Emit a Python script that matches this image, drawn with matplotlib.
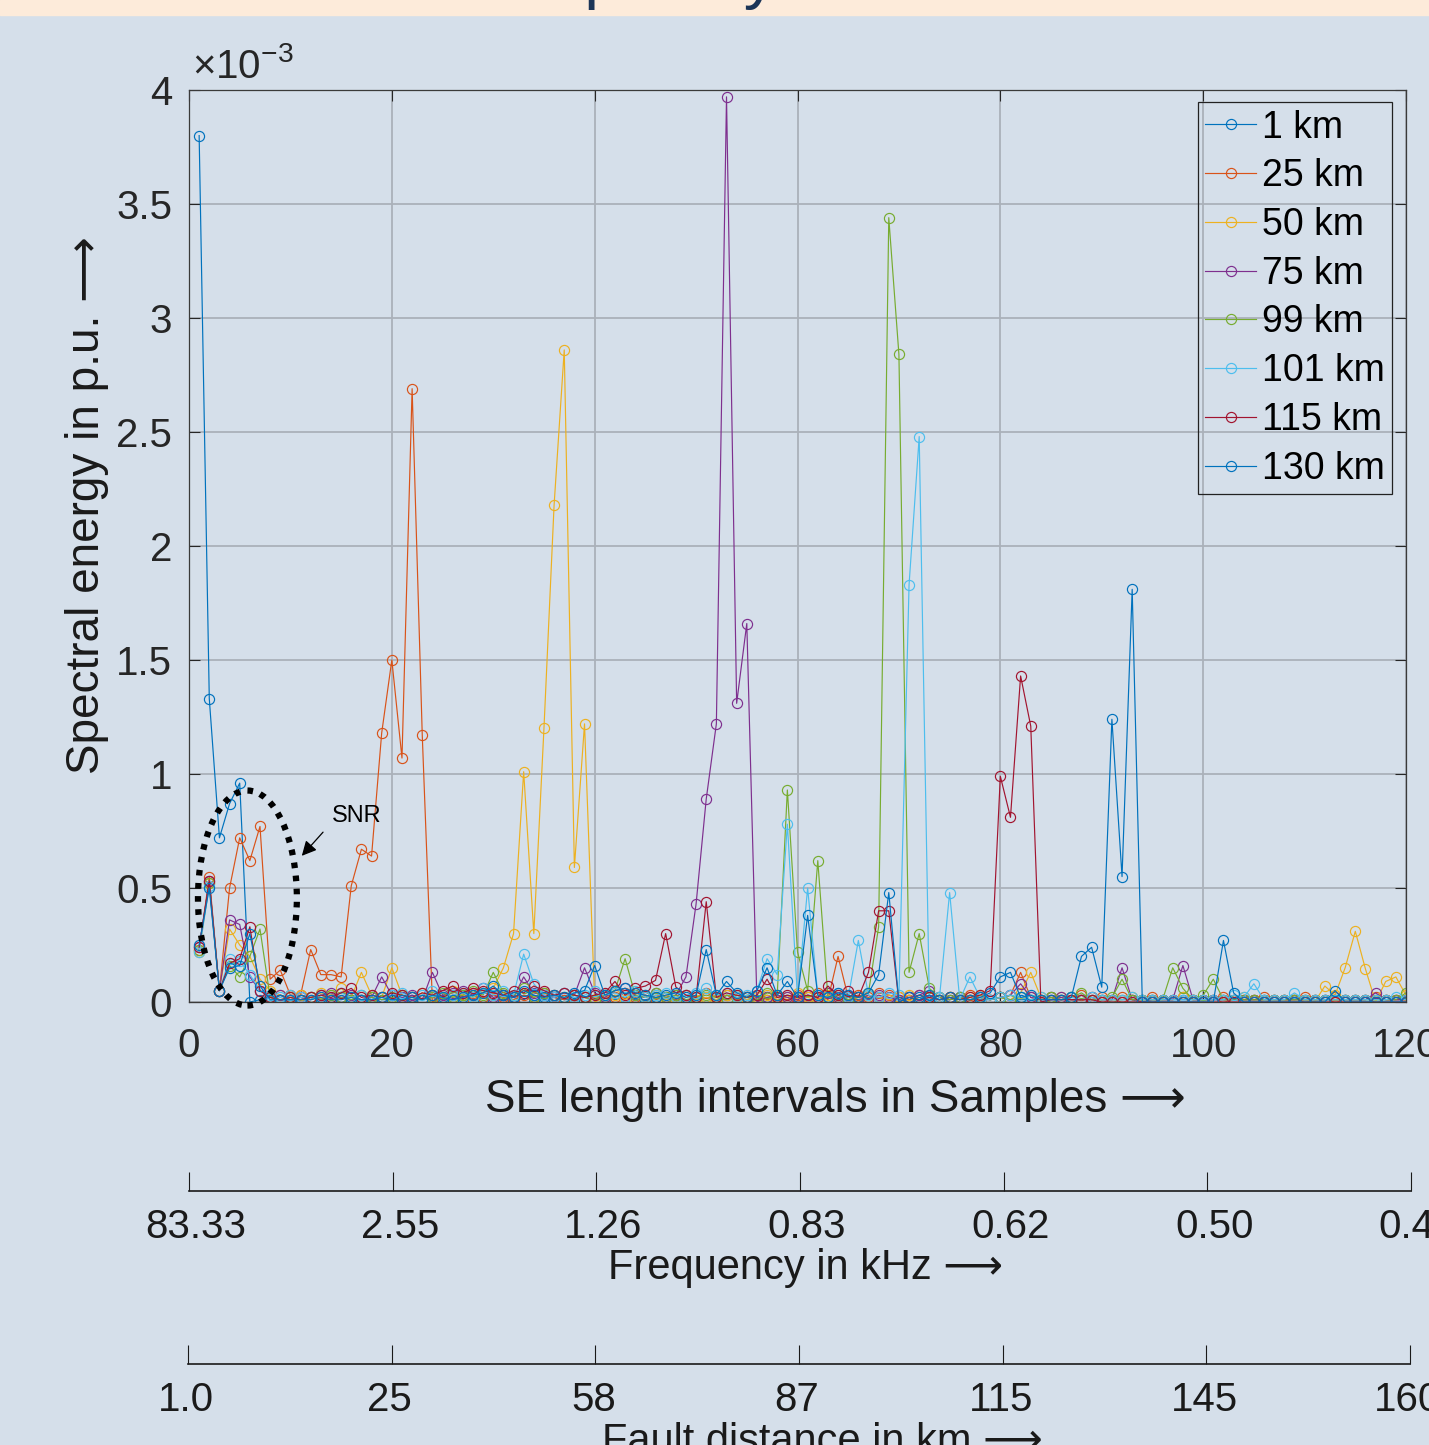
import numpy as np
import matplotlib.pyplot as plt
import matplotlib.transforms as mtransforms
from matplotlib.patches import Ellipse, Rectangle

plt.rcParams['font.family'] = ['Liberation Sans', 'DejaVu Sans']
plt.rcParams['mathtext.fontset'] = 'custom'
plt.rcParams['mathtext.rm'] = 'Liberation Sans'

# sample index 1..120 (values in units of 1e-3 p.u.)
samples = np.arange(1, 121)

se_1km = [
    3.80, 1.33, 0.72, 0.87, 0.96, 0.00, 0.01, 0.02, 0.01, 0.01,
    0.01, 0.02, 0.01, 0.01, 0.02, 0.01, 0.01, 0.02, 0.01, 0.01,
    0.02, 0.01, 0.01, 0.02, 0.01, 0.01, 0.03, 0.01, 0.02, 0.01,
    0.01, 0.02, 0.01, 0.03, 0.01, 0.02, 0.01, 0.01, 0.02, 0.01,
    0.02, 0.01, 0.02, 0.01, 0.01, 0.02, 0.01, 0.03, 0.01, 0.01,
    0.02, 0.01, 0.01, 0.02, 0.01, 0.01, 0.02, 0.01, 0.01, 0.02,
    0.01, 0.01, 0.02, 0.01, 0.02, 0.01, 0.01, 0.02, 0.01, 0.01,
    0.01, 0.02, 0.01, 0.01, 0.01, 0.02, 0.01, 0.01, 0.01, 0.02,
    0.01, 0.01, 0.01, 0.01, 0.02, 0.01, 0.01, 0.01, 0.01, 0.01,
    0.01, 0.01, 0.01, 0.01, 0.01, 0.01, 0.01, 0.01, 0.01, 0.01,
    0.01, 0.01, 0.01, 0.01, 0.01, 0.01, 0.01, 0.01, 0.01, 0.01,
    0.01, 0.01, 0.01, 0.01, 0.01, 0.01, 0.01, 0.01, 0.01, 0.01,
]
se_25km = [
    0.23, 0.55, 0.05, 0.50, 0.72, 0.62, 0.77, 0.10, 0.14, 0.03,
    0.03, 0.23, 0.12, 0.12, 0.11, 0.51, 0.67, 0.64, 1.18, 1.50,
    1.07, 2.69, 1.17, 0.00, 0.02, 0.03, 0.01, 0.04, 0.02, 0.03,
    0.02, 0.01, 0.03, 0.02, 0.04, 0.02, 0.01, 0.03, 0.02, 0.01,
    0.03, 0.02, 0.04, 0.02, 0.03, 0.01, 0.02, 0.01, 0.03, 0.02,
    0.04, 0.02, 0.03, 0.01, 0.02, 0.03, 0.01, 0.02, 0.01, 0.03,
    0.02, 0.04, 0.01, 0.20, 0.02, 0.03, 0.02, 0.04, 0.03, 0.02,
    0.01, 0.03, 0.02, 0.01, 0.02, 0.01, 0.03, 0.02, 0.01, 0.02,
    0.03, 0.13, 0.02, 0.01, 0.02, 0.01, 0.02, 0.03, 0.01, 0.02,
    0.01, 0.02, 0.01, 0.01, 0.02, 0.01, 0.01, 0.02, 0.01, 0.01,
    0.01, 0.02, 0.01, 0.01, 0.01, 0.02, 0.01, 0.01, 0.01, 0.02,
    0.01, 0.01, 0.02, 0.01, 0.01, 0.01, 0.02, 0.01, 0.01, 0.01,
]
se_50km = [
    0.22, 0.52, 0.05, 0.32, 0.25, 0.20, 0.10, 0.05, 0.03, 0.02,
    0.03, 0.02, 0.04, 0.03, 0.06, 0.02, 0.13, 0.03, 0.02, 0.15,
    0.03, 0.02, 0.04, 0.03, 0.02, 0.05, 0.03, 0.02, 0.04, 0.06,
    0.15, 0.30, 1.01, 0.30, 1.20, 2.18, 2.86, 0.59, 1.22, 0.00,
    0.02, 0.03, 0.01, 0.04, 0.02, 0.03, 0.01, 0.02, 0.03, 0.01,
    0.02, 0.01, 0.03, 0.02, 0.01, 0.02, 0.03, 0.01, 0.02, 0.04,
    0.02, 0.01, 0.03, 0.02, 0.01, 0.02, 0.03, 0.02, 0.01, 0.02,
    0.03, 0.01, 0.02, 0.01, 0.02, 0.01, 0.02, 0.03, 0.01, 0.02,
    0.01, 0.04, 0.13, 0.02, 0.01, 0.02, 0.01, 0.01, 0.02, 0.01,
    0.01, 0.01, 0.02, 0.01, 0.01, 0.01, 0.01, 0.02, 0.01, 0.01,
    0.01, 0.01, 0.01, 0.02, 0.01, 0.01, 0.01, 0.01, 0.01, 0.01,
    0.00, 0.07, 0.03, 0.15, 0.31, 0.145, 0.00, 0.09, 0.11, 0.03,
]
se_75km = [
    0.24, 0.53, 0.05, 0.36, 0.34, 0.11, 0.05, 0.02, 0.03, 0.01,
    0.02, 0.01, 0.03, 0.04, 0.02, 0.03, 0.01, 0.02, 0.11, 0.03,
    0.02, 0.03, 0.01, 0.13, 0.03, 0.04, 0.05, 0.03, 0.06, 0.02,
    0.03, 0.02, 0.11, 0.04, 0.03, 0.02, 0.04, 0.03, 0.15, 0.04,
    0.02, 0.05, 0.06, 0.03, 0.02, 0.04, 0.02, 0.03, 0.11, 0.43,
    0.89, 1.22, 3.97, 1.31, 1.66, 0.00, 0.02, 0.03, 0.02, 0.01,
    0.03, 0.02, 0.04, 0.02, 0.03, 0.02, 0.01, 0.03, 0.02, 0.01,
    0.02, 0.03, 0.05, 0.02, 0.01, 0.02, 0.01, 0.02, 0.01, 0.02,
    0.03, 0.08, 0.02, 0.01, 0.01, 0.02, 0.01, 0.01, 0.02, 0.01,
    0.01, 0.15, 0.01, 0.00, 0.01, 0.01, 0.01, 0.16, 0.01, 0.01,
    0.01, 0.01, 0.01, 0.01, 0.01, 0.01, 0.01, 0.01, 0.01, 0.01,
    0.01, 0.01, 0.01, 0.01, 0.01, 0.01, 0.04, 0.01, 0.01, 0.01,
]
se_99km = [
    0.23, 0.52, 0.05, 0.16, 0.11, 0.20, 0.32, 0.02, 0.01, 0.02,
    0.01, 0.02, 0.01, 0.03, 0.02, 0.01, 0.03, 0.02, 0.01, 0.02,
    0.03, 0.02, 0.01, 0.02, 0.04, 0.02, 0.03, 0.05, 0.03, 0.13,
    0.04, 0.03, 0.06, 0.02, 0.04, 0.03, 0.02, 0.03, 0.02, 0.01,
    0.03, 0.05, 0.19, 0.03, 0.02, 0.04, 0.02, 0.03, 0.01, 0.02,
    0.03, 0.02, 0.01, 0.03, 0.02, 0.01, 0.04, 0.03, 0.93, 0.22,
    0.05, 0.62, 0.02, 0.03, 0.01, 0.02, 0.04, 0.33, 3.44, 2.84,
    0.13, 0.30, 0.06, 0.02, 0.01, 0.02, 0.01, 0.02, 0.01, 0.02,
    0.01, 0.02, 0.01, 0.01, 0.02, 0.01, 0.02, 0.04, 0.01, 0.01,
    0.02, 0.10, 0.01, 0.01, 0.01, 0.01, 0.15, 0.06, 0.01, 0.03,
    0.10, 0.01, 0.01, 0.01, 0.01, 0.01, 0.01, 0.01, 0.01, 0.01,
    0.01, 0.01, 0.01, 0.01, 0.01, 0.01, 0.01, 0.01, 0.01, 0.04,
]
se_101km = [
    0.22, 0.51, 0.05, 0.19, 0.18, 0.12, 0.05, 0.03, 0.02, 0.03,
    0.02, 0.01, 0.03, 0.02, 0.04, 0.02, 0.03, 0.01, 0.02, 0.03,
    0.04, 0.02, 0.03, 0.05, 0.02, 0.03, 0.04, 0.02, 0.06, 0.03,
    0.05, 0.03, 0.21, 0.08, 0.03, 0.02, 0.04, 0.02, 0.03, 0.05,
    0.03, 0.04, 0.02, 0.05, 0.02, 0.03, 0.04, 0.02, 0.03, 0.04,
    0.06, 0.03, 0.04, 0.02, 0.03, 0.05, 0.19, 0.12, 0.78, 0.02,
    0.50, 0.03, 0.02, 0.04, 0.02, 0.27, 0.03, 0.02, 0.04, 0.03,
    1.83, 2.48, 0.00, 0.02, 0.48, 0.01, 0.11, 0.02, 0.01, 0.02,
    0.03, 0.02, 0.01, 0.02, 0.01, 0.01, 0.02, 0.01, 0.02, 0.01,
    0.01, 0.01, 0.02, 0.01, 0.01, 0.01, 0.01, 0.01, 0.01, 0.01,
    0.01, 0.01, 0.03, 0.02, 0.08, 0.01, 0.01, 0.01, 0.04, 0.01,
    0.01, 0.01, 0.01, 0.01, 0.01, 0.01, 0.01, 0.01, 0.02, 0.01,
]
se_115km = [
    0.24, 0.53, 0.05, 0.17, 0.19, 0.33, 0.05, 0.02, 0.01, 0.02,
    0.01, 0.02, 0.03, 0.02, 0.04, 0.06, 0.02, 0.03, 0.02, 0.04,
    0.03, 0.02, 0.04, 0.03, 0.05, 0.07, 0.04, 0.06, 0.05, 0.04,
    0.03, 0.05, 0.04, 0.07, 0.05, 0.03, 0.04, 0.03, 0.02, 0.03,
    0.04, 0.09, 0.03, 0.06, 0.07, 0.095, 0.30, 0.066, 0.03, 0.02,
    0.44, 0.02, 0.04, 0.03, 0.02, 0.03, 0.10, 0.02, 0.03, 0.02,
    0.03, 0.02, 0.07, 0.03, 0.05, 0.02, 0.13, 0.40, 0.40, 0.00,
    0.02, 0.01, 0.02, 0.01, 0.02, 0.01, 0.02, 0.03, 0.05, 0.99,
    0.81, 1.43, 1.21, 0.00, 0.01, 0.01, 0.01, 0.01, 0.01, 0.00,
    0.00, 0.00, 0.00, 0.00, 0.00, 0.00, 0.00, 0.00, 0.00, 0.00,
    0.00, 0.00, 0.00, 0.00, 0.00, 0.00, 0.00, 0.00, 0.00, 0.00,
    0.00, 0.00, 0.00, 0.00, 0.00, 0.00, 0.00, 0.00, 0.00, 0.00,
]
se_130km = [
    0.25, 0.50, 0.05, 0.15, 0.16, 0.30, 0.07, 0.01, 0.01, 0.01,
    0.01, 0.01, 0.02, 0.01, 0.01, 0.02, 0.01, 0.01, 0.02, 0.01,
    0.01, 0.02, 0.01, 0.03, 0.02, 0.01, 0.02, 0.03, 0.04, 0.07,
    0.03, 0.02, 0.05, 0.03, 0.02, 0.03, 0.02, 0.04, 0.05, 0.16,
    0.03, 0.05, 0.06, 0.04, 0.03, 0.02, 0.03, 0.04, 0.02, 0.03,
    0.23, 0.03, 0.09, 0.04, 0.02, 0.05, 0.15, 0.03, 0.09, 0.02,
    0.38, 0.03, 0.02, 0.04, 0.03, 0.02, 0.04, 0.12, 0.48, 0.00,
    0.02, 0.01, 0.03, 0.01, 0.02, 0.01, 0.01, 0.02, 0.04, 0.11,
    0.13, 0.02, 0.03, 0.01, 0.01, 0.01, 0.02, 0.20, 0.24, 0.065,
    1.24, 0.55, 1.81, 0.00, 0.00, 0.00, 0.00, 0.00, 0.00, 0.00,
    0.00, 0.27, 0.04, 0.00, 0.00, 0.00, 0.00, 0.00, 0.00, 0.00,
    0.00, 0.00, 0.05, 0.00, 0.00, 0.00, 0.00, 0.00, 0.00, 0.00,
]

labels = ['1 km', '25 km', '50 km', '75 km', '99 km', '101 km', '115 km', '130 km']
series = [se_1km, se_25km, se_50km, se_75km, se_99km, se_101km, se_115km, se_130km]
colors = ['#0072BD', '#D95319', '#EDB120', '#7E2F8E', '#77AC30', '#4DBEEE',
          '#A2142F', '#0072BD']

freq_ticks = ['83.33', '2.55', '1.26', '0.83', '0.62', '0.50', '0.41']
dist_ticks = ['1.0', '25', '58', '87', '115', '145', '160']

W, H = 1429, 1445
bg = '#d5dfea'
fig = plt.figure(figsize=(W / 100, H / 100), dpi=100, facecolor=bg)

# peach band at the top with the cut-off heading
fig.patches.append(Rectangle((0, 1 - 15 / H), 1, 15 / H, transform=fig.transFigure,
                             color='#fdebda', zorder=0))
fig.text(462 / W, 1 + 4 / H, 'Frequency', fontsize=48, color='#1c3557',
         ha='left', va='baseline')

ax = fig.add_axes([189 / W, 1 - 1002 / H, (1406 - 189) / W, (1002 - 90) / H])
ax.set_facecolor(bg)
for lab, ys, c in zip(labels, series, colors):
    ax.plot(samples, ys, color=c, lw=0.85, marker='o', ms=7.3, mfc='none', mew=0.85,
            label=lab)

ax.set_xlim(0, 120)
ax.set_ylim(0, 4)
ax.set_xticks(np.arange(0, 121, 20))
ax.set_yticks(np.arange(0, 4.01, 0.5))
ax.set_yticklabels(['0', '0.5', '1', '1.5', '2', '2.5', '3', '3.5', '4'])
ax.tick_params(direction='in', length=8, width=0.8, top=True, right=True,
               labelsize=29, colors='#262626')
ax.tick_params(axis='x', pad=18)
ax.tick_params(axis='y', pad=12)
ax.grid(True, color='#aab1ba', lw=1.3)
ax.set_axisbelow(True)
for s in ax.spines.values():
    s.set_color('#3a3a3a')
    s.set_linewidth(0.9)

fig.text(192 / W, 1 - 78 / H, r'$\times10^{-3}$', fontsize=29, color='#262626',
         ha='left', va='baseline')

leg = ax.legend(loc='upper right', bbox_to_anchor=((1392 - 189) / 1217, (1002 - 102) / 912),
                borderaxespad=0, fontsize=27, handlelength=1.35, handletextpad=0.15,
                labelspacing=0.34, borderpad=0.2, fancybox=False, framealpha=1,
                markerscale=1.0)
leg.get_frame().set_facecolor('none')
leg.get_frame().set_edgecolor('#222222')
leg.get_frame().set_linewidth(0.9)

# SNR marking
ax.add_patch(Ellipse((5.76, 0.456), 9.75, 0.943, fill=False, lw=4.5, color='black',
                     linestyle=(0, (0.9, 1.2)), clip_on=False, zorder=5))
ax.annotate('', xy=(10.94, 0.632), xytext=(13.4, 0.754),
            arrowprops=dict(arrowstyle='-|>', lw=0.9, color='black', mutation_scale=22))
ax.text(14.1, 0.815, 'SNR', fontsize=17, va='center', ha='left')

fig.text(835 / W, 1 - 1100 / H, 'SE length intervals in Samples \u27f6', fontsize=33,
         ha='center', va='center', color='#1a1a1a')
fig.text(87 / W, 1 - 505 / H, 'Spectral energy in p.u. \u27f6', fontsize=33,
         ha='center', va='center', rotation=90, color='#1a1a1a')


def extra_axis(y_px, x0, x1, ticks, shift_px):
    a = fig.add_axes([x0 / W, 1 - y_px / H, (x1 - x0) / W, 0.02])
    a.patch.set_visible(False)
    for k in ['top', 'left', 'right']:
        a.spines[k].set_visible(False)
    a.spines['bottom'].set_linewidth(1.2)
    a.spines['bottom'].set_color('#1a1a1a')
    a.set_xlim(0, 6)
    a.set_yticks([])
    a.set_xticks(range(7))
    a.set_xticklabels(ticks)
    a.tick_params(axis='x', direction='in', length=14, width=0.8, labelsize=29,
                  pad=12, colors='#1a1a1a')
    off = mtransforms.ScaledTranslation(shift_px / 100, 0, fig.dpi_scale_trans)
    for t in a.get_xticklabels():
        t.set_transform(t.get_transform() + off)
    return a


extra_axis(1191, 189, 1411, freq_ticks, 7)
fig.text(805 / W, 1 - 1268 / H, 'Frequency in kHz \u27f6', fontsize=30,
         ha='center', va='center', color='#1a1a1a')
extra_axis(1364, 188, 1410, dist_ticks, -2)
fig.text(822 / W, 1 - 1442 / H, 'Fault distance in km \u27f6', fontsize=30,
         ha='center', va='center', color='#1a1a1a')

fig.savefig('out.png', dpi=100, facecolor=bg)
